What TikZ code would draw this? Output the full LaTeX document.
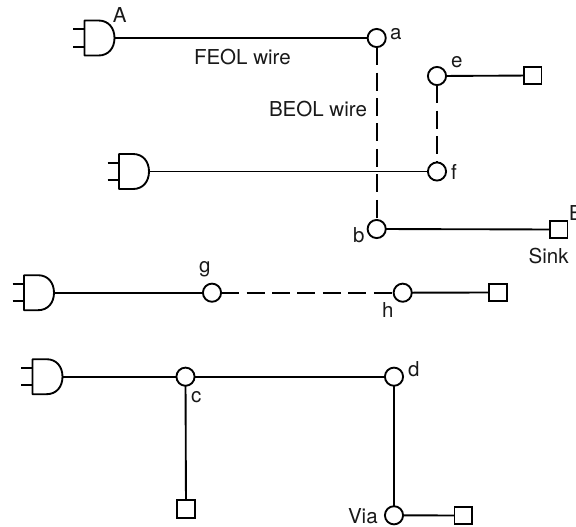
\documentclass[tikz,border=0pt]{standalone}
\usepackage{fontspec}
\setmainfont{TeX Gyre Heros}
\tikzset{
  x=0.75pt,y=-0.75pt,
  wire/.style={line width=1.4pt},
  beol/.style={line width=1.4pt,dash pattern=on 13.5pt off 5.6pt},
  pin/.style={circle,draw,line width=1.4pt,fill=white,minimum size=13.6pt,inner sep=0pt,outer sep=0pt},
  sinkbox/.style={rectangle,draw,line width=1.4pt,fill=white,minimum size=13.2pt,inner sep=0pt,outer sep=0pt},
  lbl/.style={anchor=base west,inner sep=0pt,outer sep=0pt,font=\fontsize{15.4}{18}\selectfont,text=black!90},
  andgate/.pic={
    \draw[wire,line join=round] (0,-17.5) -- (14,-17.5) .. controls (24,-17.5) and (30,-10) .. (30,0)
      .. controls (30,10) and (24,17.5) .. (14,17.5) -- (0,17.5) -- cycle;
    \draw[wire] (-11.5,-8.7) -- (0,-8.7) (-11.5,8.7) -- (0,8.7);
    \coordinate (-out) at (30,0);
  }
}
\begin{document}
\begin{tikzpicture}
\path[use as bounding box,clip] (0,0) rectangle (576,526);
\pic (ga) at (84.5,38) {andgate};
\pic (gb) at (119,171.5) {andgate};
\pic (gc) at (24,292.7) {andgate};
\pic (gd) at (32.5,376.7) {andgate};
\node[pin] (a) at (376.7,38) {};
\node[pin] (b) at (376.7,229) {};
\node[pin] (e) at (437,76) {};
\node[pin] (f) at (437,171.5) {};
\node[pin] (g) at (212,292.7) {};
\node[pin] (h) at (402.7,292.7) {};
\node[pin] (c) at (185.5,376.7) {};
\node[pin] (d) at (394,376.7) {};
\node[pin] (via) at (394,515.3) {};
\node[sinkbox] (s1) at (532.7,75.5) {};
\node[sinkbox] (s2) at (558.7,229.5) {};
\node[sinkbox] (s3) at (498,292.5) {};
\node[sinkbox] (s4) at (186,509) {};
\node[sinkbox] (s5) at (463.3,515.5) {};
\draw[beol] (a) -- (b);
\draw[beol] (e) -- (f);
\draw[beol] (g) -- (h);
\draw[wire] (ga-out) -- (a);
\draw[wire] (gb-out) -- (f);
\draw[wire] (gc-out) -- (g);
\draw[wire] (gd-out) -- (c);
\draw[wire] (c) -- (d);
\draw[wire] (d) -- (via);
\draw[wire] (c) -- (s4);
\draw[wire] (e) -- (s1);
\draw[wire] (b) -- (s2);
\draw[wire] (h) -- (s3);
\draw[wire] (via) -- (s5);
\node[lbl] (tA) at (113,22.7) {A};
\node[lbl] (tfe) at (194,64) {FEOL wire};
\node[lbl] (tbe) at (269,116) {BEOL wire};
\node[lbl] (ta) at (390,39) {a};
\node[lbl] (te) at (451,67) {e};
\node[lbl] (tf) at (451,179) {f};
\node[lbl] (tb) at (353,242) {b};
\node[lbl] (tB) at (569,220) {B};
\node[lbl] (tS) at (528.7,263) {Sink};
\node[lbl] (tg) at (199,272) {g};
\node[lbl] (th) at (382,317) {h};
\node[lbl] (tc) at (191,402.7) {c};
\node[lbl] (td) at (408,376) {d};
\node[lbl] (tV) at (348,523) {Via};
\end{tikzpicture}
\end{document}
